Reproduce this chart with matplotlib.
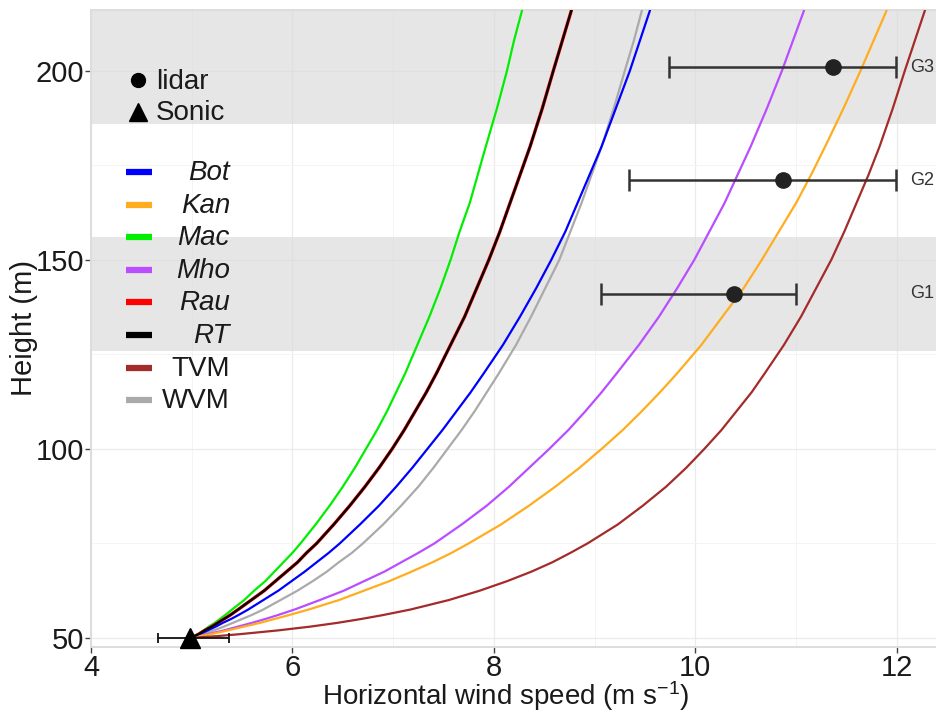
import matplotlib
matplotlib.use("Agg")
import matplotlib.pyplot as plt
from matplotlib.lines import Line2D

plt.rcParams['font.family'] = ['Liberation Sans', 'DejaVu Sans']
plt.rcParams['mathtext.fontset'] = 'custom'
plt.rcParams['mathtext.rm'] = 'Liberation Sans'
plt.rcParams['mathtext.default'] = 'regular'

# ---- data ----
heights = [50, 50.5, 51, 52, 53, 54, 55, 56, 57.5, 60, 62.5, 65, 67.5, 70, 72.5, 75, 80, 85, 90, 95,
           100, 105, 110, 115, 120, 127.5, 135, 142.5, 150, 157.5, 165, 172.5, 180, 190, 200, 208, 216]
bot = [5.00, 5.04, 5.08, 5.16, 5.24, 5.31, 5.39, 5.46, 5.56, 5.71, 5.86, 5.99, 6.12, 6.24, 6.36, 6.47, 6.67, 6.86, 7.03, 7.19,
       7.34, 7.49, 7.63, 7.77, 7.90, 8.09, 8.26, 8.42, 8.57, 8.71, 8.83, 8.95, 9.07, 9.21, 9.35, 9.45, 9.55]
kan = [5.00, 5.09, 5.19, 5.36, 5.52, 5.68, 5.82, 5.96, 6.16, 6.46, 6.71, 6.96, 7.18, 7.39, 7.58, 7.75, 8.07, 8.35, 8.61, 8.85,
       9.07, 9.28, 9.47, 9.65, 9.82, 10.06, 10.27, 10.48, 10.66, 10.83, 11.00, 11.15, 11.29, 11.47, 11.64, 11.77, 11.90]
mac = [5.00, 5.03, 5.06, 5.12, 5.17, 5.23, 5.28, 5.33, 5.40, 5.52, 5.62, 5.73, 5.82, 5.91, 6.00, 6.08, 6.23, 6.37, 6.50, 6.62,
       6.73, 6.84, 6.94, 7.03, 7.12, 7.24, 7.36, 7.47, 7.57, 7.66, 7.76, 7.84, 7.92, 8.03, 8.13, 8.20, 8.28]
mho = [5.00, 5.08, 5.16, 5.32, 5.46, 5.60, 5.73, 5.85, 6.02, 6.27, 6.51, 6.71, 6.91, 7.08, 7.25, 7.41, 7.68, 7.93, 8.15, 8.35,
       8.55, 8.74, 8.91, 9.07, 9.22, 9.44, 9.64, 9.82, 9.99, 10.14, 10.29, 10.42, 10.55, 10.71, 10.86, 10.97, 11.08]
rau = [5.00, 5.03, 5.07, 5.13, 5.20, 5.26, 5.32, 5.38, 5.46, 5.59, 5.72, 5.83, 5.94, 6.05, 6.14, 6.24, 6.41, 6.57, 6.72, 6.86,
       6.99, 7.11, 7.22, 7.33, 7.43, 7.57, 7.71, 7.83, 7.95, 8.06, 8.16, 8.26, 8.36, 8.48, 8.59, 8.68, 8.77]
rt = [5.00, 5.03, 5.07, 5.13, 5.20, 5.26, 5.32, 5.38, 5.46, 5.59, 5.72, 5.83, 5.94, 6.05, 6.14, 6.24, 6.41, 6.57, 6.72, 6.86,
      6.99, 7.11, 7.22, 7.33, 7.43, 7.57, 7.71, 7.83, 7.95, 8.06, 8.16, 8.26, 8.36, 8.48, 8.59, 8.68, 8.77]
tvm = [5.00, 5.26, 5.48, 5.86, 6.18, 6.45, 6.68, 6.89, 7.17, 7.55, 7.86, 8.13, 8.37, 8.58, 8.76, 8.93, 9.23, 9.48, 9.71, 9.91,
       10.09, 10.26, 10.41, 10.56, 10.69, 10.88, 11.05, 11.20, 11.35, 11.48, 11.60, 11.72, 11.83, 11.96, 12.08, 12.18, 12.28]
wvm = [5.00, 5.06, 5.11, 5.22, 5.32, 5.41, 5.50, 5.59, 5.71, 5.88, 6.05, 6.20, 6.34, 6.46, 6.59, 6.70, 6.90, 7.08, 7.25, 7.40,
       7.54, 7.68, 7.81, 7.93, 8.05, 8.22, 8.37, 8.51, 8.65, 8.76, 8.87, 8.97, 9.07, 9.19, 9.30, 9.39, 9.47]

model_names = ['Bot', 'Kan', 'Mac', 'Mho', 'Rau', 'RT', 'TVM', 'WVM']
model_italic = [True, True, True, True, True, True, False, False]
model_colors = ['#0000FF', '#FFAD1F', '#00EE00', '#B94DFF', '#FF0000', '#000000', '#A52A2A', '#AAAAAA']

lidar_height = [141, 171, 201]
lidar_speed = [10.38, 10.87, 11.37]
lidar_min = [9.06, 9.34, 9.74]
lidar_max = [11.00, 11.99, 11.99]
group_labels = ['G1', 'G2', 'G3']

sonic_height = [50]
sonic_speed = [4.98]
sonic_min = [4.67]
sonic_max = [5.37]

band_ranges = [(126, 156), (186, 216.5)]

# ---- figure ----
W, H = 937, 713
fig = plt.figure(figsize=(W / 100, H / 100), dpi=100)
L, R, T, B = 91, 937, 10, 647
ax = fig.add_axes([L / W, 1 - B / H, (R - L) / W, (B - T) / H])
ax.set_xlim(4.0, 12.40)
ax.set_ylim(47.6, 216.1)

# grid
for xv in [4, 6, 8, 10, 12]:
    ax.axvline(xv, color='#EBEBEB', lw=0.9, zorder=0)
for xv in [5, 7, 9, 11]:
    ax.axvline(xv, color='#F4F4F4', lw=0.7, zorder=0)
for yv in [50, 100, 150, 200]:
    ax.axhline(yv, color='#EBEBEB', lw=0.9, zorder=0)
for yv in [75, 125, 175]:
    ax.axhline(yv, color='#F4F4F4', lw=0.7, zorder=0)

for lo, hi in band_ranges:
    ax.axhspan(lo, hi, color='#D9D9D9', alpha=0.65, lw=0, zorder=1)

series = [bot, kan, mac, mho, rau, rt, tvm, wvm]
order = [2, 4, 5, 7, 0, 3, 1, 6]
for i in order:
    lw = 2.4 if model_names[i] == 'Rau' else 1.6
    ax.plot(series[i], heights, color=model_colors[i], lw=lw,
            zorder=3 + (1 if model_names[i] == 'RT' else 0),
            solid_capstyle='round', solid_joinstyle='round')

# lidar
xerr = [[s - m for s, m in zip(lidar_speed, lidar_min)], [m - s for s, m in zip(lidar_speed, lidar_max)]]
ax.errorbar(lidar_speed, lidar_height, xerr=xerr, fmt='o', color='#222222', ecolor='#333333',
            elinewidth=1.8, capsize=8, capthick=1.8, ms=11, zorder=6)
for lab, hgt in zip(group_labels, lidar_height):
    ax.text(12.13, hgt, lab, fontsize=13, color='#333333', ha='left', va='center', zorder=7)

# sonic
sxerr = [[s - m for s, m in zip(sonic_speed, sonic_min)], [m - s for s, m in zip(sonic_speed, sonic_max)]]
ax.errorbar(sonic_speed, sonic_height, xerr=sxerr, fmt='none', ecolor='#111111',
            elinewidth=1.3, capsize=3.5, capthick=1.3, zorder=6, clip_on=False)
ax.plot(sonic_speed, sonic_height, marker='^', color='black', ms=14, ls='none', zorder=7, clip_on=False)

# axes styling
for side in ['left', 'bottom', 'top', 'right']:
    ax.spines[side].set_color('#DDDDDD')
    ax.spines[side].set_linewidth(1.4)
ax.set_xticks([4, 6, 8, 10, 12])
ax.set_yticks([50, 100, 150, 200])
ax.tick_params(axis='both', length=4, width=1, color='#444444', labelsize=21, labelcolor='#1A1A1A', pad=1)


def P(px, py):
    return (px / W, 1 - py / H)


fig.text(*P(506, 696), 'Horizontal wind speed (m s$^{-1}$)', fontsize=20, color='#1A1A1A',
         ha='center', va='center')
fig.text(*P(24, 328), 'Height (m)', fontsize=21, color='#1A1A1A', ha='center', va='center', rotation=90)

# manual legend (figure pixel coords)
tf = fig.transFigure
fig.add_artist(Line2D([P(138, 80)[0]], [P(138, 80)[1]], marker='o', color='black', ms=10, ls='none', transform=tf))
fig.add_artist(Line2D([P(138, 112)[0]], [P(138, 112)[1]], marker='^', color='black', ms=13, ls='none', transform=tf))
fig.text(*P(156, 82), 'lidar', fontsize=20, ha='left', va='center', color='#1A1A1A')
fig.text(*P(156, 113), 'Sonic', fontsize=20, ha='left', va='center', color='#1A1A1A')

for k, (name, ital, col) in enumerate(zip(model_names, model_italic, model_colors)):
    py = 172 + 32.6 * k
    x0, y0 = P(126, py)
    x1, _ = P(152, py)
    fig.add_artist(Line2D([x0, x1], [y0, y0], color=col, lw=4.5, transform=tf, solid_capstyle='butt'))
    fig.text(*P(230, py + 1), name, fontsize=20, ha='right', va='center', color='#1A1A1A',
             style='italic' if ital else 'normal')

fig.savefig('out.png', dpi=100)
